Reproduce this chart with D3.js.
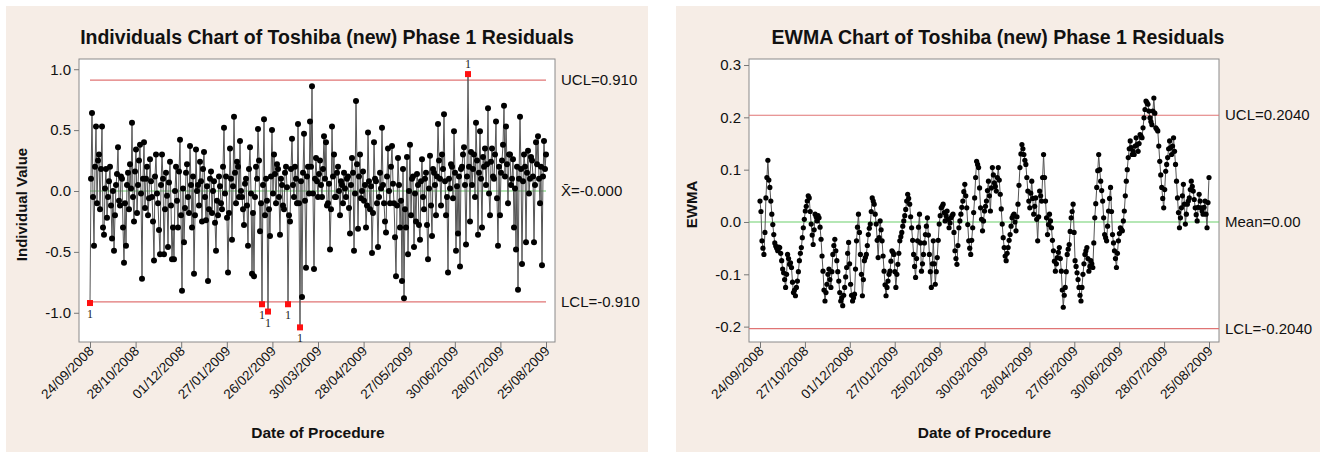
<!DOCTYPE html>
<html>
<head>
<meta charset="utf-8">
<script src="https://cdn.jsdelivr.net/npm/d3@7"></script>
<style>
  body { margin: 0; background: #ffffff; }
  svg { display: block; }
  text { font-family: 'Liberation Sans', Arial, sans-serif; fill: #111; }
</style>
</head>
<body>
<svg id="chart" width="1325" height="456"></svg>
<script>
// ---- data ----
const indDates = ["24/09/2008", "28/10/2008", "01/12/2008", "27/01/2009", "26/02/2009", "30/03/2009",
                  "28/04/2009", "27/05/2009", "30/06/2009", "28/07/2009", "25/08/2009"];
const ewmaDates = ["24/09/2008", "27/10/2008", "01/12/2008", "27/01/2009", "25/02/2009", "30/03/2009",
                   "28/04/2009", "27/05/2009", "30/06/2009", "28/07/2009", "25/08/2009"];

// individual residuals, in observation order
const residuals = [
  -0.92, 0.10, 0.64, -0.05, -0.45, 0.20, 0.53, -0.10, 0.25, 0.30, -0.15, 0.18, 0.53, -0.30, -0.36, 0.02, 0.18, -0.22, -0.05, 0.08,
  0.20, -0.12, -0.39, 0.00, -0.49, -0.20, 0.05, 0.14, 0.36, -0.08, -0.12, 0.12, 0.10, -0.30, -0.59, -0.10, -0.45, 0.05, 0.15, -0.15,
  0.22, 0.02, 0.56, -0.05, -0.25, 0.16, 0.34, -0.18, 0.05, 0.25, 0.38, -0.02, -0.72, 0.10, 0.40, -0.14, 0.10, 0.20, -0.20, -0.06,
  0.26, 0.08, -0.05, -0.25, -0.57, 0.12, 0.30, -0.02, -0.10, -0.32, -0.52, 0.05, 0.30, 0.10, -0.52, -0.15, 0.15, -0.04, -0.46, 0.07,
  0.24, -0.12, -0.56, -0.30, -0.56, 0.00, 0.20, -0.08, -0.30, 0.16, 0.42, -0.20, -0.82, 0.02, -0.42, -0.14, 0.15, 0.22, -0.05, -0.18,
  0.37, 0.05, -0.30, 0.12, -0.68, -0.20, 0.34, 0.00, 0.05, -0.12, 0.24, 0.08, -0.25, 0.18, 0.32, -0.05, -0.24, 0.04, -0.74, -0.15,
  0.10, 0.16, -0.18, 0.00, 0.08, -0.26, -0.49, -0.08, -0.20, 0.12, 0.04, -0.10, -0.15, 0.20, 0.52, -0.02, 0.12, -0.22, -0.67, -0.18,
  0.35, 0.10, -0.40, 0.04, 0.61, 0.15, -0.10, 0.24, 0.20, -0.05, 0.41, 0.00, -0.05, -0.15, -0.28, 0.06, 0.10, -0.12, -0.45, 0.18,
  0.36, -0.02, -0.68, -0.18, -0.70, -0.05, 0.20, 0.10, 0.51, 0.25, -0.33, -0.10, -0.93, 0.05, 0.59, -0.20, 0.10, -0.08, -0.99, -0.15,
  -0.37, 0.12, 0.50, -0.02, 0.30, 0.14, -0.10, 0.22, 0.18, -0.05, -0.36, 0.10, 0.05, -0.12, -0.15, 0.15, 0.20, 0.03, -0.93, -0.20,
  -0.25, 0.18, 0.43, 0.05, -0.05, 0.20, 0.10, -0.10, 0.55, -0.10, -1.12, 0.08, -0.87, 0.15, 0.47, -0.08, -0.63, 0.12, 0.20, -0.02,
  0.57, 0.20, 0.86, -0.02, -0.64, 0.10, 0.27, 0.08, -0.05, 0.14,
  0.25, 0.05, -0.05, 0.18, 0.45, 0.10, 0.40, -0.12, -0.10, 0.06, -0.48, -0.15, 0.53, 0.12, 0.30, -0.05, -0.05, 0.15, 0.20, 0.00,
  -0.20, 0.08, 0.05, -0.10, 0.15, 0.02, -0.05, 0.10, 0.12, -0.14, -0.35, 0.05, 0.27, 0.15, -0.49, -0.02, 0.74, 0.22, -0.31, 0.12,
  0.30, -0.06, 0.00, 0.16, -0.08, 0.05, -0.30, -0.12, 0.48, 0.08, -0.15, 0.04, -0.51, -0.18, 0.40, 0.10, 0.08, -0.10, -0.46, -0.05,
  0.15, 0.02, 0.52, 0.05, -0.10, -0.25, -0.34, 0.12, 0.35, 0.00, -0.10, 0.20, 0.37, 0.06, -0.10, -0.38, -0.70, -0.12, 0.27, 0.05,
  -0.30, -0.08, -0.74, 0.18, -0.88, -0.15, -0.30, 0.28, -0.52, 0.00, 0.38, -0.20, 0.10, 0.12, -0.46, -0.02, -0.25, 0.14, 0.05, -0.28,
  -0.40, 0.08, 0.26, -0.05, -0.15, 0.10, 0.15, -0.28, -0.56, 0.02, 0.29, -0.12, -0.37, 0.18, 0.15, 0.05, -0.20, 0.12, 0.55, 0.25,
  0.10, -0.12, 0.30, 0.18, 0.63, 0.08, -0.20, -0.05, -0.67, 0.10, 0.02, 0.22, 0.20, -0.06, 0.49, 0.15, -0.49, 0.04, -0.35, 0.12,
  -0.62, 0.18, 0.20, 0.30, 0.36, 0.05, -0.44, 0.12, 0.96, 0.20, -0.25, 0.32, 0.05, 0.18, 0.30, -0.05, 0.56, 0.25, -0.36, 0.15,
  0.49, 0.10, -0.30, 0.28, 0.20, 0.35, 0.05, 0.22, 0.68, -0.02, -0.20, 0.24, 0.35, 0.12, 0.10, 0.30, 0.57, -0.06, -0.45, 0.20,
  -0.20, 0.15, 0.25, 0.38, 0.70, 0.12, 0.53, 0.22, -0.10, 0.30, 0.30, 0.05, 0.10, 0.26, -0.30, 0.02, -0.48, 0.20, -0.81, 0.10,
  0.61, 0.18, -0.60, 0.08, 0.30, 0.20, -0.42, 0.15, 0.33, -0.02, 0.10, 0.28, 0.25, 0.12, -0.42, 0.05, 0.40, 0.22, 0.45, 0.10,
  -0.10, 0.20, -0.61, 0.12, 0.41, 0.18, 0.30
];

// EWMA statistic, in observation order
const ewma = [
  0.040, 0.020, -0.036, -0.050, -0.062, -0.020, 0.046, 0.085, 0.118, 0.080, 0.066, 0.040, 0.015, -0.005, -0.024, -0.040, -0.046, -0.050, -0.055, -0.048,
  -0.049, -0.060, -0.074, -0.090, -0.097, -0.110, -0.125, -0.100, -0.062, -0.070, -0.081, -0.078, -0.087, -0.115, -0.135, -0.130, -0.141, -0.125, -0.113, -0.095,
  -0.074, -0.060, -0.049, -0.030, -0.011, 0.005, 0.021, 0.030, 0.040, 0.050, 0.046, 0.020, -0.004, -0.025, -0.043, -0.015, 0.015, 0.010, 0.002, 0.012,
  0.008, -0.010, -0.033, -0.065, -0.094, -0.130, -0.151, -0.135, -0.119, -0.100, -0.090, -0.110, -0.125, -0.095, -0.062, -0.045, -0.033, -0.055, -0.074, -0.095,
  -0.113, -0.135, -0.151, -0.145, -0.160, -0.140, -0.125, -0.105, -0.087, -0.060, -0.039, -0.080, -0.119, -0.140, -0.151, -0.145, -0.138, -0.090, -0.036, -0.010,
  0.015, -0.020, -0.062, -0.100, -0.141, -0.110, -0.074, -0.068, -0.062, -0.045, -0.024, -0.012, -0.004, 0.020, 0.046, 0.040, 0.034, 0.015, -0.004, -0.035,
  -0.068, -0.030, 0.002, -0.015, -0.036, -0.065, -0.094, -0.120, -0.141, -0.125, -0.113, -0.100, -0.094, -0.075, -0.055, -0.058, -0.062, -0.095, -0.125, -0.100,
  -0.081, -0.060, -0.036, -0.028, -0.020, -0.008, 0.002, 0.012, 0.024, 0.040, 0.053, 0.045, 0.034, 0.010, -0.011, -0.035, -0.062, -0.085, -0.106, -0.070,
  -0.036, -0.010, 0.015, -0.040, -0.094, -0.080, -0.062, -0.040, -0.024, -0.008, 0.008, -0.025, -0.062, -0.095, -0.125, -0.080, -0.036, -0.080, -0.119, -0.095,
  -0.068, -0.035, -0.004, 0.012, 0.027, 0.030, 0.034, 0.018, 0.002, 0.012, 0.021, 0.005, -0.011, -0.002, 0.008, 0.012, 0.015, -0.020, -0.055, -0.070,
  -0.081, -0.045, -0.011, 0.002, 0.015, 0.028, 0.040, 0.058, 0.072, 0.050, 0.027, -0.005, -0.036, -0.050, -0.062, -0.035, -0.011, 0.018, 0.046, 0.085,
  0.116, 0.110, 0.104, 0.065, 0.027, 0.005, -0.017, 0.002,
  0.021, 0.030, 0.040, 0.060, 0.078, 0.050, 0.021, 0.065, 0.104, 0.090, 0.075, 0.068, 0.059, 0.085, 0.104, 0.080, 0.053, 0.025, -0.004, -0.030,
  -0.049, -0.065, -0.074, -0.060, -0.049, -0.035, -0.024, -0.008, 0.008, 0.012, 0.015, 0.000, -0.017, 0.010, 0.034, 0.070, 0.104, 0.130, 0.148, 0.140,
  0.129, 0.118, 0.110, 0.085, 0.059, 0.040, 0.027, 0.055, 0.078, 0.045, 0.015, 0.030, 0.046, 0.005, -0.036, 0.010, 0.059, 0.050, 0.040, 0.085,
  0.129, 0.085, 0.040, 0.008, -0.024, -0.005, 0.015, 0.002, -0.011, -0.035, -0.055, -0.075, -0.094, -0.080, -0.068, -0.058, -0.049, -0.070, -0.094, -0.130,
  -0.163, -0.140, -0.125, -0.095, -0.062, -0.052, -0.043, -0.018, 0.008, 0.020, 0.034, -0.020, -0.074, -0.085, -0.097, -0.110, -0.125, -0.140, -0.151, -0.125,
  -0.100, -0.080, -0.062, -0.055, -0.049, -0.070, -0.094, -0.085, -0.074, -0.080, -0.087, -0.040, 0.008, 0.035, 0.066, 0.098, 0.129, 0.100, 0.078, 0.060,
  0.040, 0.008, -0.024, -0.030, -0.036, -0.008, 0.021, 0.045, 0.066, 0.020, -0.024, -0.040, -0.055, -0.070, -0.087, -0.060, -0.036, -0.022, -0.011, -0.014,
  -0.017, 0.002, 0.021, 0.050, 0.078, 0.100, 0.123, 0.140, 0.155, 0.142, 0.129, 0.135, 0.129, 0.145, 0.161, 0.148, 0.135, 0.150, 0.167, 0.164,
  0.161, 0.180, 0.199, 0.215, 0.231, 0.228, 0.225, 0.212, 0.199, 0.192, 0.186, 0.212, 0.237, 0.208, 0.180, 0.177, 0.174, 0.145, 0.116, 0.090,
  0.066, 0.045, 0.027, 0.062, 0.097, 0.110, 0.123, 0.140, 0.155, 0.142, 0.129, 0.145, 0.161, 0.135, 0.110, 0.078, 0.046, 0.018, -0.011, 0.008,
  0.027, 0.050, 0.072, 0.034, -0.004, 0.015, 0.034, 0.040, 0.046, 0.062, 0.078, 0.068, 0.059, 0.043, 0.027, 0.014, 0.002, 0.028, 0.053, 0.040,
  0.027, 0.021, 0.015, 0.028, 0.040, 0.015, -0.011, 0.037, 0.085
];

// control limits: UCL, centre, LCL
const indLimits = [0.910, 0.0, -0.910];
const indLimitLabels = ["UCL=0.910", "X\u0304=-0.000", "LCL=-0.910"];
const ewmaLimits = [0.2040, 0.0, -0.2040];
const ewmaLimitLabels = ["UCL=0.2040", "Mean=0.00", "LCL=-0.2040"];

const indTicks = [1.0, 0.5, 0.0, -0.5, -1.0];
const ewmaTicks = [0.3, 0.2, 0.1, 0.0, -0.1, -0.2];

const svg = d3.select("#chart");

function drawChart(o) {
  const g = svg.append("g");
  const n = o.values.length;

  // panel background
  g.append("rect")
    .attr("x", o.panel[0]).attr("y", o.panel[1])
    .attr("width", o.panel[2]).attr("height", o.panel[3])
    .attr("fill", "#f6ede6");

  g.append("text")
    .attr("x", o.panel[0] + o.panel[2] / 2).attr("y", 44)
    .attr("text-anchor", "middle")
    .style("font-size", "19.5px").style("font-weight", "bold")
    .text(o.title);

  // plot frame
  g.append("rect")
    .attr("x", o.frame[0]).attr("y", o.top)
    .attr("width", o.frame[1] - o.frame[0]).attr("height", o.bottom - o.top)
    .attr("fill", "#ffffff").attr("stroke", "#8a8a8a").attr("stroke-width", 1);

  let x = d3.scaleLinear().domain([0, n - 1]).range(o.xRange);
  let y = d3.scaleLinear().domain(o.yDomain).range([o.bottom, o.top]);

  // y axis
  let yAxis = g.append("g")
    .attr("transform", "translate(" + o.frame[0] + ",0)")
    .call(d3.axisLeft(y).tickValues(o.yTicks).tickSize(5).tickPadding(3)
      .tickFormat(d => d.toFixed(1)));
  yAxis.select(".domain").remove();
  yAxis.selectAll("line").attr("stroke", "#777");
  yAxis.selectAll("text").style("font-size", "15px").attr("fill", "#111");

  // x axis: evenly spaced observation ticks carrying the date labels
  let tickIdx = o.dates.map((d, k) => k * (n - 1) / (o.dates.length - 1));
  let xAxis = g.append("g")
    .attr("transform", "translate(0," + o.bottom + ")")
    .call(d3.axisBottom(x).tickValues(tickIdx).tickSize(6)
      .tickFormat((d, i) => o.dates[i]));
  xAxis.select(".domain").remove();
  xAxis.selectAll("line").attr("stroke", "#777");
  xAxis.selectAll("text")
    .style("font-size", "13.5px").attr("fill", "#111")
    .attr("text-anchor", "end")
    .attr("dy", null)
    .attr("transform", "translate(4,10) rotate(-45)")
    .attr("y", 0).attr("x", 0);

  // control limit lines
  let lx0 = o.fullLimits ? o.frame[0] : x(0);
  let lx1 = o.fullLimits ? o.frame[1] : x(n - 1);
  o.limits.forEach((v, i) => {
    g.append("line")
      .attr("x1", lx0).attr("x2", lx1)
      .attr("y1", y(v)).attr("y2", y(v))
      .attr("stroke", i === 1 ? "#6ccf6c" : "#e07474").attr("stroke-width", 1.2);
    g.append("text")
      .attr("x", o.frame[1] + 6).attr("y", y(v) + 5)
      .style("font-size", "15px")
      .text(o.limitLabels[i]);
  });

  // data line + points
  let line = d3.line().x((d, i) => x(i)).y(d => y(d));
  g.append("path").datum(o.values)
    .attr("d", line).attr("fill", "none")
    .attr("stroke", "#555").attr("stroke-width", 1);

  let out = d => o.flagOut && (d > o.limits[0] || d < o.limits[2]);
  let pts = o.values.map((v, i) => ({ v: v, i: i }));
  g.selectAll("circle.pt").data(pts.filter(p => !out(p.v)))
    .enter().append("circle")
    .attr("cx", p => x(p.i)).attr("cy", p => y(p.v))
    .attr("r", o.r).attr("fill", "#000");

  let bad = pts.filter(p => out(p.v));
  g.selectAll("rect.bad").data(bad).enter().append("rect")
    .attr("x", p => x(p.i) - 3).attr("y", p => y(p.v) - 3)
    .attr("width", 6).attr("height", 6).attr("fill", "#ff1010");
  g.selectAll("text.flag").data(bad).enter().append("text")
    .attr("x", p => x(p.i)).attr("y", p => p.v > 0 ? y(p.v) - 6 : y(p.v) + 15)
    .attr("text-anchor", "middle")
    .style("font-family", "'Liberation Serif', serif").style("font-size", "12px")
    .style("fill", "#222")
    .text("1");

  // axis titles
  g.append("text")
    .attr("transform", "translate(" + o.yLabelX + "," + ((o.top + o.bottom) / 2 + 4) + ") rotate(-90)")
    .attr("text-anchor", "middle")
    .style("font-size", "15px").style("font-weight", "bold")
    .text(o.yLabel);
  g.append("text")
    .attr("x", (o.xRange[0] + o.xRange[1]) / 2).attr("y", 438)
    .attr("text-anchor", "middle")
    .style("font-size", "15.5px").style("font-weight", "bold")
    .text("Date of Procedure");
}

drawChart({
  panel: [6, 6, 642, 446],
  title: "Individuals Chart of Toshiba (new) Phase 1 Residuals",
  frame: [79, 555], top: 59, bottom: 342,
  xRange: [90, 546], yDomain: [-1.24, 1.084],
  yTicks: indTicks, dates: indDates,
  values: residuals, limits: indLimits, limitLabels: indLimitLabels,
  fullLimits: false, flagOut: true, r: 3.0,
  yLabel: "Individual Value", yLabelX: 27
});

drawChart({
  panel: [676, 6, 644, 446],
  title: "EWMA Chart of Toshiba (new) Phase 1 Residuals",
  frame: [749, 1219], top: 59, bottom: 342,
  xRange: [760, 1209], yDomain: [-0.2294, 0.3115],
  yTicks: ewmaTicks, dates: ewmaDates,
  values: ewma, limits: ewmaLimits, limitLabels: ewmaLimitLabels,
  fullLimits: true, flagOut: false, r: 2.6,
  yLabel: "EWMA", yLabelX: 697
});
</script>
</body>
</html>
